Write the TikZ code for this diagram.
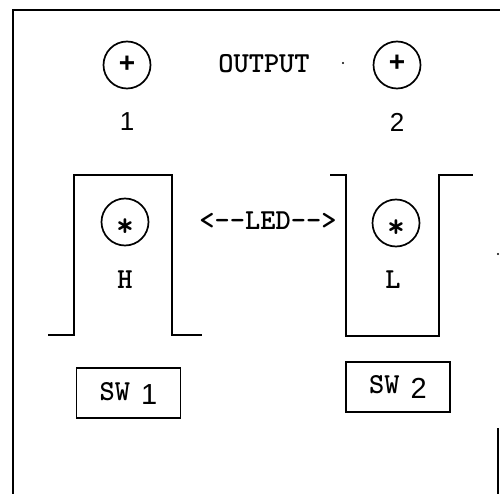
\documentclass[tikz,border=0pt]{standalone}
\usepackage{fontspec}
\setmainfont{Liberation Serif}
\newfontfamily\sansf{Liberation Sans}
\begin{document}
\begin{tikzpicture}[x=1pt,y=-1pt,
  frameline/.style={line width=2.2pt},
  outline/.style={line width=1.9pt, line join=miter},
  socket/.style={circle, draw, line width=1.7pt, minimum size=47pt, inner sep=0pt},
  monotext/.style={font=\ttfamily\bfseries\fontsize{29}{32}\selectfont, inner sep=0pt},
  startext/.style={font=\ttfamily\bfseries\fontsize{34}{34}\selectfont, inner sep=0pt},
  plustext/.style={font=\sansf\bfseries\fontsize{28}{28}\selectfont, inner sep=0pt},
  digit/.style={font=\sansf\fontsize{26}{30}\selectfont, inner sep=0pt},
  swbox/.style={draw, line width=1.9pt, minimum width=104pt, minimum height=50pt, inner sep=0pt,
     font=\ttfamily\bfseries\fontsize{29}{32}\selectfont},
  speck/.style={fill, circle, inner sep=0pt, minimum size=2.2pt}
]
\useasboundingbox (0,0) rectangle (500,494);
% frame
\coordinate (ftl) at (13,10);
\coordinate (ftr) at (500,10);
\coordinate (fbl) at (13,494);
\coordinate (frt) at (498,428);
\coordinate (frb) at (498,494);
\draw[frameline] (ftr) -- (ftl) -- (fbl);
\draw[line width=1.6pt] (frt) -- (frb);
\node[speck] (sp1) at (343,63) {};
\node[speck] (sp2) at (498,254) {};

% output sockets
\node[socket] (o1) at (127,65) {};
\node[plustext] (p1) at (127,64) {+};
\node[socket] (o2) at (397,65) {};
\node[plustext] (p2) at (397,63) {+};
\node[monotext] (out) at (264,64) {OUTPUT};
\node[digit] (n1) at (127,122) {1};
\node[digit] (n2) at (397,122) {2};

% left switch (H)
\coordinate (a1) at (48,335);
\coordinate (a2) at (74,335);
\coordinate (a3) at (74,175);
\coordinate (a4) at (172,175);
\coordinate (a5) at (172,335);
\coordinate (a6) at (202,335);
\draw[outline] (a1) -- (a2) -- (a3) -- (a4) -- (a5) -- (a6);
\node[socket] (led1) at (125,222) {};
\node[startext] (s1) at (125,228) {*};
\node[monotext] (hh) at (125,280) {H};

% right switch (L)
\coordinate (b1) at (330,175);
\coordinate (b2) at (346,175);
\coordinate (b3) at (346,336);
\coordinate (b4) at (439,336);
\coordinate (b5) at (439,175);
\coordinate (b6) at (473,175);
\draw[outline] (b1) -- (b2) -- (b3) -- (b4) -- (b5) -- (b6);
\node[socket] (led2) at (396,223) {};
\node[startext] (s2) at (396,229) {*};
\node[monotext] (ll) at (393,280) {L};

\node[monotext] (led) at (268,221) {<{-}{-}LED{-}{-}>};

% switch labels
\node[swbox] (sw1) at (128.5,393) {SW\hspace{11pt}\raisebox{-4pt}{\sansf\mdseries 1}};
\node[swbox] (sw2) at (398,387) {SW\hspace{11pt}\raisebox{-5pt}{\sansf\mdseries 2}};
\end{tikzpicture}
\end{document}
